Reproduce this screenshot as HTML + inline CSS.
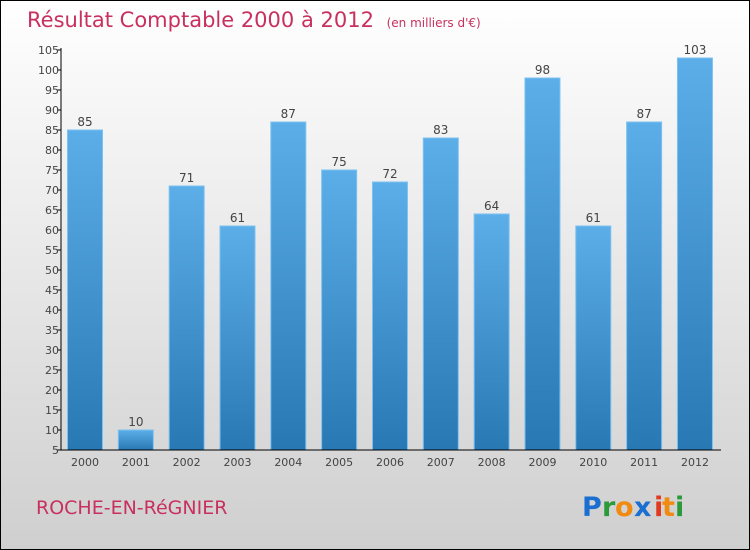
<!DOCTYPE html>
<html><head><meta charset="utf-8"><style>
body{margin:0;width:750px;height:550px;overflow:hidden}
svg{display:block}
text{font-family:"DejaVu Sans","Liberation Sans",sans-serif}
</style></head><body>
<svg id="c" width="750" height="550">
<defs>
<linearGradient id="bg" x1="0" y1="0" x2="0" y2="1"><stop offset="0" stop-color="#ffffff"/><stop offset="1" stop-color="#cfcfcf"/></linearGradient>
<linearGradient id="bar" x1="0" y1="0" x2="0" y2="1"><stop offset="0" stop-color="#5caee8"/><stop offset="1" stop-color="#2878b4"/></linearGradient>
</defs>
<rect x="0.5" y="0.5" width="749" height="549" fill="url(#bg)" stroke="#000"/>
<text x="27" y="27" font-size="21" fill="#c8305f">Résultat Comptable 2000 à 2012 <tspan font-size="12" dx="6">(en milliers d'€)</tspan></text>
<text x="36" y="514" font-size="19" fill="#c8305f">ROCHE-EN-RéGNIER</text>
<g font-size="27" font-weight="bold">
<text x="582" y="516" fill="#1a6fd0">P</text><text x="602" y="516" fill="#2a9a3a">r</text><text x="615" y="516" fill="#f08a10">o</text><text x="634" y="516" fill="#1a6fd0">x</text><text x="654" y="516" fill="#e03a20">i</text><text x="662" y="516" fill="#f08a10">t</text><text x="675" y="516" fill="#2a9a3a">i</text>
</g>
<g id="plot"></g>
</svg>
<script>
const categories=["2000","2001","2002","2003","2004","2005","2006","2007","2008","2009","2010","2011","2012"];
const values=[85,10,71,61,87,75,72,83,64,98,61,87,103];
const yTicks=[5,10,15,20,25,30,35,40,45,50,55,60,65,70,75,80,85,90,95,100,105];
const NS="http://www.w3.org/2000/svg";
const g=document.getElementById('plot');
const y=v=>450-(v-5)*4;
const x=i=>85+i*50.83;
function mk(t,a,p){const e=document.createElementNS(NS,t);for(const k in a)e.setAttribute(k,a[k]);(p||g).appendChild(e);return e;}
values.forEach((v,i)=>{
 const r=mk('rect',{x:x(i)-17.5,y:y(v),width:35,height:450-y(v),fill:'url(#bar)',stroke:'#7cc2f0','stroke-width':1});
 
 
 const t=mk('text',{x:x(i),y:y(v)-4,'font-size':12,fill:'#444','text-anchor':'middle'});
 t.textContent=v;
 
 
 const c=mk('text',{x:x(i),y:466,'font-size':11,fill:'#444','text-anchor':'middle'});
 c.textContent=categories[i];
 
 
});
yTicks.forEach(v=>{
 const l=mk('line',{x1:57,x2:61,y1:y(v),y2:y(v),stroke:'#000'});
 
 
 const t=mk('text',{x:59,y:y(v)+4,'font-size':11,fill:'#444','text-anchor':'end'});
 t.textContent=v;
 
 
});
const ya=mk('line',{x1:61,x2:61,y1:48,y2:450,stroke:'#000'});


const xa=mk('line',{x1:61,x2:721,y1:450,y2:450,stroke:'#000'});


</script>
</body></html>
